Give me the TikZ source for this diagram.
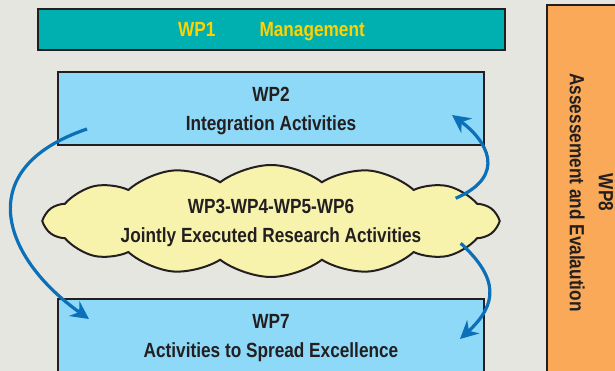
\documentclass[tikz,border=0pt]{standalone}
\usepackage{fontspec}
\setmainfont{Liberation Sans}[FakeStretch=0.84]
\usetikzlibrary{calc,arrows.meta,shapes.symbols}

\definecolor{bg}{HTML}{E6E6E1}
\definecolor{edge}{HTML}{231F20}
\definecolor{tealwp}{HTML}{00AFB0}
\definecolor{goldtxt}{HTML}{FFD200}
\definecolor{skywp}{HTML}{8ED8F8}
\definecolor{creamwp}{HTML}{F7F3AC}
\definecolor{orangewp}{HTML}{F9A957}
\definecolor{flowblue}{HTML}{0B70B8}

\newcommand{\wpfont}{\bfseries\fontsize{20.5}{29}\selectfont}
\tikzset{
  wpbox/.style={draw=edge,line width=2pt,font=\wpfont,text=edge,align=center,text depth=0pt},
  flow/.style={draw=flowblue,line width=3.2pt,-{Stealth[length=18pt,width=18pt,inset=6pt]}}
}

\begin{document}
\begin{tikzpicture}[x=1pt,y=-1pt]
                      \fill[bg](0,0)rectangle(615,371);
                      \useasboundingbox(0,0)rectangle(615,371);
                      % work packages
                      \node[wpbox,fill=tealwp,text=goldtxt,minimum width=467pt,minimum height=41pt](wp1)at(271.5,29.5){WP1\hspace{44pt}Management};
                      \node[wpbox,fill=skywp,minimum width=426pt,minimum height=73pt](wp2)at(271,108.5){WP2\\Integration Activities};
                      \node[wpbox,fill=creamwp,cloud,cloud puffs=14,cloud puff arc=75,cloud ignores aspect,minimum width=452pt,minimum height=112pt,inner sep=0pt](wp36)at(271,221){WP3-WP4-WP5-WP6\\Jointly Executed Research Activities};
                      \node[wpbox,fill=skywp,minimum width=426pt,minimum height=74pt](wp7)at(271,336){WP7\\Activities to Spread Excellence};
                      \node[wpbox,fill=orangewp,rotate=-90,minimum width=375pt,minimum height=89pt](wp8)at(591.5,192.5){WP8\\Assessement and Evalaution};
                      % flow arrows
                      \coordinate(s1)at($(wp2.south west)+(30,-17)$);
                      \coordinate(e1)at($(wp7.north west)+(32,21)$);
                      \coordinate(s2)at($(wp36.east)+(-45,-23)$);
                      \coordinate(e2)at($(wp2.east)+(-33,6.5)$);
                      \coordinate(s3)at($(wp36.east)+(-40,22)$);
                      \coordinate(e3)at($(wp7.north east)+(-25,41)$);
                      \draw[flow](s1).. controls +(-118,40) and +(-85,-60) ..(e1);
                      \draw[flow](s2).. controls +(53,-23) and +(34,25) ..(e2);
                      \draw[flow](s3).. controls +(38,35) and +(38,-35) ..(e3);
                  \end{tikzpicture}
\end{document}
